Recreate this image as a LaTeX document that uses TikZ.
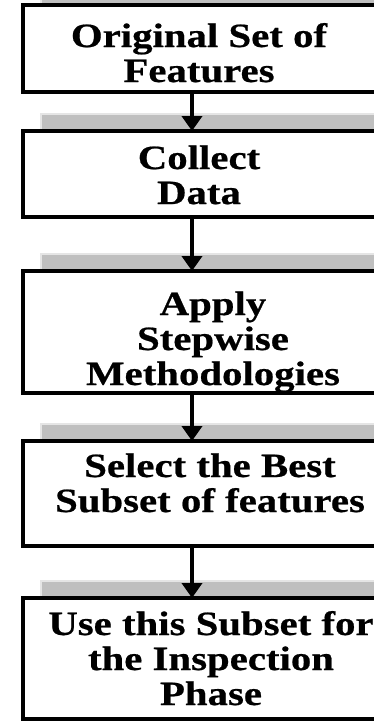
\documentclass[tikz,border=0pt]{standalone}
\usepackage{fontspec}
\setmainfont{Liberation Serif}[FakeStretch=1.2, BoldFeatures={FakeBold=0.6}]
\usetikzlibrary{arrows.meta}
\tikzset{
  stepbox/.style={draw=black, line width=4pt, fill=white, rectangle, inner sep=0pt, outer sep=0pt, minimum width=387.5pt},
  shadowbar/.style={fill=black!25, draw=black!10, line width=1.2pt},
  flowarrow/.style={line width=4pt, -{Triangle[width=20pt,length=15pt]}},
  label/.style={anchor=base, inner sep=0pt, font=\fontsize{34}{35}\selectfont\bfseries}
}
\newcommand{\lines}[1]{\renewcommand{\arraystretch}{1}\begin{tabular}[t]{@{}c@{}}#1\end{tabular}}
\begin{document}
\begin{tikzpicture}[x=1pt,y=-1pt]
\useasboundingbox (0,0) rectangle (374,721);
\clip (0,0) rectangle (374,721);
\fill[white] (0,0) rectangle (374,721);
% shadow bars
\draw[shadowbar] (41,-12) rectangle (430,7);
\draw[shadowbar] (41,114) rectangle (430,133);
\draw[shadowbar] (41,254) rectangle (430,273);
\draw[shadowbar] (41,424) rectangle (430,443);
\draw[shadowbar] (41,581) rectangle (430,600);
% boxes
\node[stepbox, minimum height=87pt] (b1) at (216.25,48.5) {};
\node[stepbox, minimum height=86pt] (b2) at (216.25,174) {};
\node[stepbox, minimum height=122pt] (b3) at (216.25,332) {};
\node[stepbox, minimum height=105pt] (b4) at (216.25,493.5) {};
\node[stepbox, minimum height=121pt] (b5) at (216.25,658.5) {};
% texts
\node[label] (t1) at (199,47) {\lines{Original Set of\\Features}};
\node[label] (t2) at (199,169) {\lines{Collect\\Data}};
\node[label] (t3) at (213,315) {\lines{Apply\\Stepwise\\Methodologies}};
\node[label] (t4) at (210,477) {\lines{Select the Best\\Subset of features}};
\node[label] (t5) at (211,635) {\lines{Use this Subset for\\the Inspection\\Phase}};
% arrows
\coordinate (ax) at (192,0);
\draw[flowarrow] (b1.south -| ax) -- (b2.north -| ax);
\draw[flowarrow] (b2.south -| ax) -- (b3.north -| ax);
\draw[flowarrow] (b3.south -| ax) -- (b4.north -| ax);
\draw[flowarrow] (b4.south -| ax) -- (b5.north -| ax);
\end{tikzpicture}
\end{document}
